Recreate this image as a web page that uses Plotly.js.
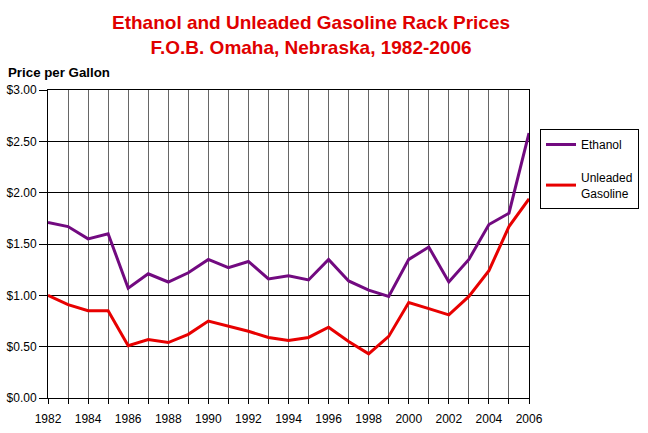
<!DOCTYPE html>
<html>
<head>
<meta charset="utf-8">
<script src="https://cdn.plot.ly/plotly-3.0.1.min.js"></script>
<style>html,body{margin:0;padding:0;background:#fff;}#chart{width:648px;height:433px;}</style>
</head>
<body>
<div id="chart"></div>
<script>
const years = [1982,1983,1984,1985,1986,1987,1988,1989,1990,1991,1992,1993,1994,1995,1996,1997,1998,1999,2000,2001,2002,2003,2004,2005,2006];
const ethanol = [1.71,1.67,1.55,1.60,1.07,1.21,1.13,1.22,1.35,1.27,1.33,1.16,1.19,1.15,1.35,1.14,1.05,0.99,1.35,1.47,1.13,1.35,1.69,1.80,2.58];
const gasoline = [1.00,0.91,0.85,0.85,0.51,0.57,0.54,0.62,0.75,0.70,0.65,0.59,0.56,0.59,0.69,0.55,0.43,0.60,0.93,0.87,0.81,0.99,1.24,1.67,1.94];
const seriesNames = ["Ethanol", "Unleaded<br>Gasoline"];
const titleLines = ["Ethanol and Unleaded Gasoline Rack Prices", "F.O.B. Omaha, Nebraska, 1982-2006"];
const yAxisLabel = "Price per Gallon";

const font = "Arial, 'Liberation Sans', sans-serif";
const traces = [
  {x: years, y: ethanol, name: seriesNames[0], mode: "lines", legendgroup: "a",
   line: {color: "#720a80", width: 3}},
  {x: years, y: gasoline, name: seriesNames[1], mode: "lines", legendgroup: "b",
   line: {color: "#e80000", width: 3}}
];
const layout = {
  width: 648, height: 433,
  margin: {l: 48, r: 119, t: 90, b: 35},
  paper_bgcolor: "#fff", plot_bgcolor: "#fff",
  font: {family: font, size: 12, color: "#000"},
  title: {text: titleLines.join("<br>"), font: {family: font, size: 19, color: "#e00000", weight: "bold"},
          x: 0.48, xanchor: "center", y: 1 - 29/433, yanchor: "middle"},
  xaxis: {range: [1982, 2006], dtick: 2, tick0: 1982, showgrid: true, gridcolor: "#666", gridwidth: 1,
          ticks: "outside", ticklen: 5, tickcolor: "#000", showline: true, linecolor: "#000", mirror: true,
          ticklabelstandoff: 5,
          minor: {dtick: 1, showgrid: true, gridcolor: "#666", ticks: "outside", ticklen: 5, tickcolor: "#000"},
          zeroline: false, fixedrange: true, tickfont: {size: 12}},
  yaxis: {range: [0, 3], dtick: 0.5, tickformat: "$.2f", showgrid: true, gridcolor: "#000", gridwidth: 1,
          ticks: "outside", ticklen: 8, tickcolor: "#000", showline: true, linecolor: "#000", mirror: true,
          zeroline: false, fixedrange: true, tickfont: {size: 12}},
  legend: {x: 540/648, xref: "container", y: 1 - 129/433, yref: "container", xanchor: "left", yanchor: "top",
           bordercolor: "#000", borderwidth: 1, bgcolor: "#fff", font: {size: 12},
           tracegroupgap: 14, traceorder: "grouped"},
  annotations: [
    {text: yAxisLabel, xref: "paper", yref: "paper", x: (6-48)/481, y: (398-82)/308, xanchor: "left", yanchor: "bottom",
     showarrow: false, font: {size: 13.3, weight: "bold"}}
  ],
  showlegend: true
};
Plotly.newPlot("chart", traces, layout, {displayModeBar: false, staticPlot: true});
</script>
</body>
</html>
